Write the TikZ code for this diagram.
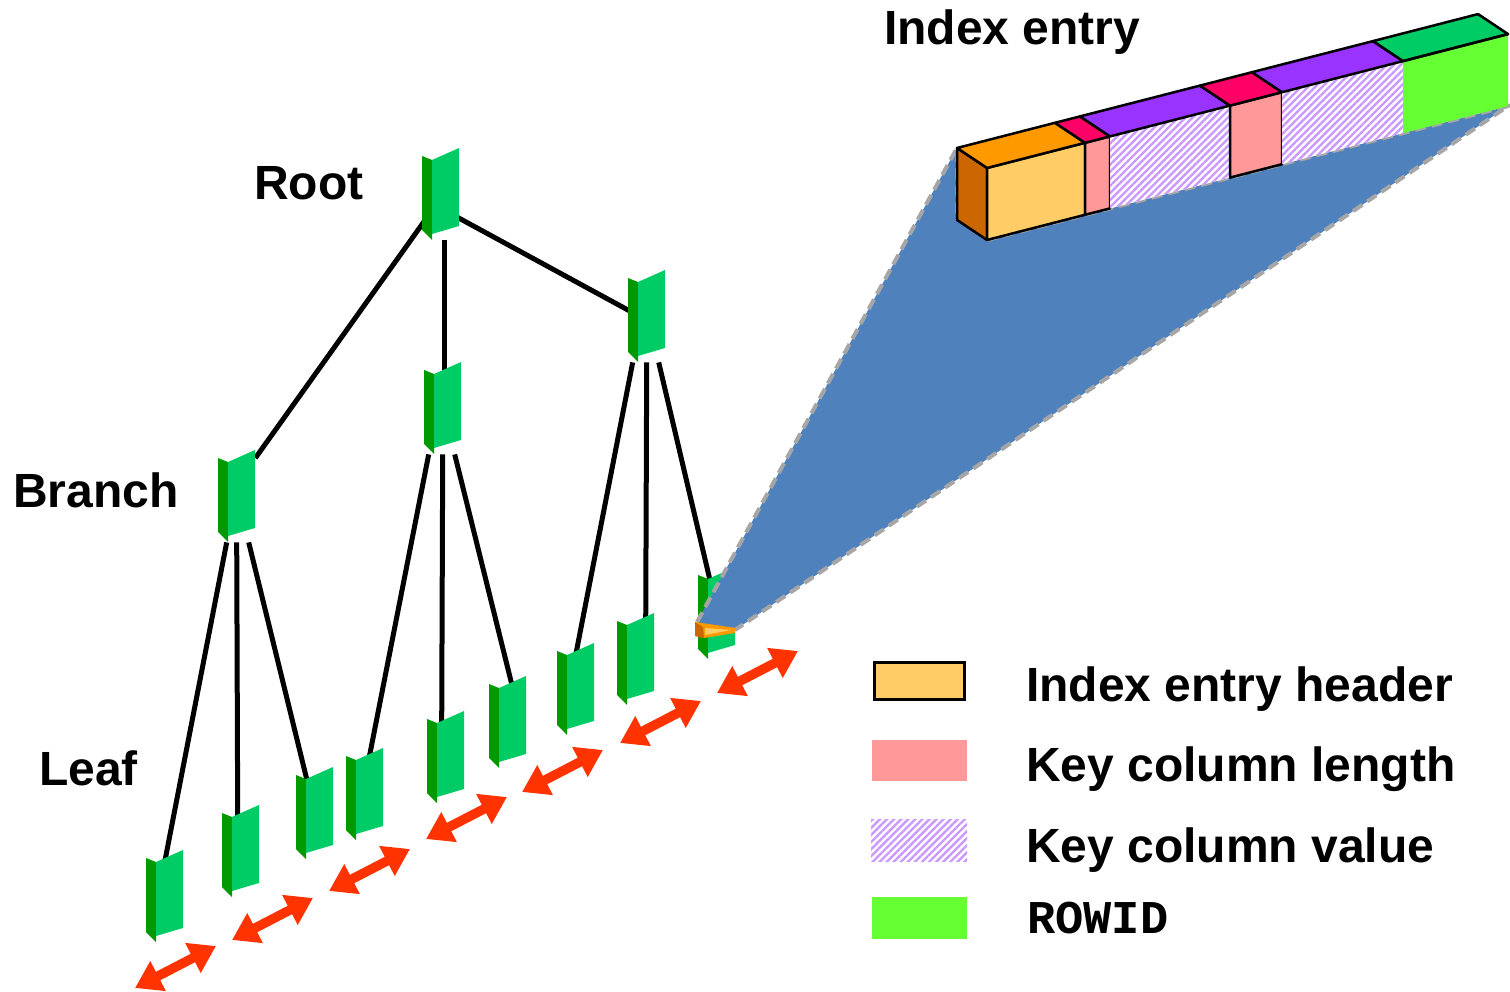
\documentclass[tikz,border=0pt]{standalone}
\usepackage{fontspec}
\setmainfont{Liberation Sans}
\newfontfamily\codefont{Liberation Mono}
\usetikzlibrary{arrows.meta,patterns.meta}
\definecolor{findark}{HTML}{009900}
\definecolor{finlight}{HTML}{00CC66}
\definecolor{hdrfront}{HTML}{FFCC66}
\definecolor{hdrtop}{HTML}{FF9900}
\definecolor{hdrside}{HTML}{CC6600}
\definecolor{keypink}{HTML}{FF9999}
\definecolor{keyred}{HTML}{FF0066}
\definecolor{keypurple}{HTML}{9933FF}
\definecolor{hatchcol}{HTML}{CC99FF}
\definecolor{ridtop}{HTML}{00CC66}
\definecolor{ridfront}{HTML}{66FF33}
\definecolor{fanblue}{HTML}{4F81BD}
\definecolor{arrowred}{HTML}{FF3300}
\definecolor{dashgray}{HTML}{A6A6A6}
\tikzset{
  blk/.style={rectangle, inner sep=0pt, minimum width=37pt, minimum height=84pt, anchor=north west},
  link/.style={line width=5pt, black},
  lbl/.style={font=\bfseries\fontsize{48}{57}\selectfont, inner sep=0pt, anchor=base west},
  dbl/.style={line width=9.5pt, arrowred, {Triangle[length=26pt,width=32pt]}-{Triangle[length=26pt,width=32pt]}},
  faceline/.style={draw=black, line width=2.5pt, line join=round},
  hatchface/.style={preaction={fill=white}, pattern={Lines[angle=45,distance=5pt,line width=2.4pt]}, pattern color=hatchcol},
  fanedge/.style={draw=dashgray, line width=4pt, dash pattern=on 11pt off 6pt},
  swatch/.style={rectangle, inner sep=0pt},
}
\newcommand\drawfin[1]{%
  \fill[findark] (#1.north west) -- ++(10,4) -- ++(0,80) -- ++(-10,-10) -- cycle;
  \fill[finlight] ([shift={(10,4)}]#1.north west) -- ++(27,-12) -- ++(0,78) -- ++(-27,8) -- cycle;}
% #1 xa, #2 bottom y at xa, #3 xb, #4 bottom y at xb, #5 front style, #6 top colour
\newcommand\barseg[6]{%
  \path[#5] (#1,#2) -- (#3,#4) -- (#3,#4-72) -- (#1,#2-72) -- cycle;
  \filldraw[fill=#6, faceline] (#1,#2-72) -- (#3,#4-72) -- (#3-30,#4-92) -- (#1-30,#2-92) -- cycle;}
\begin{document}
\begin{tikzpicture}[x=1pt,y=-1pt]
\useasboundingbox (0,0) rectangle (1510,992);
% tree blocks (positions)
\node[blk] (root) at (422,156) {};
\node[blk] (b1) at (218,458) {};
\node[blk] (b2) at (424,370) {};
\node[blk] (b3) at (628,278) {};
\node[blk] (l1) at (146,858) {};
\node[blk] (l2) at (222,813) {};
\node[blk] (l3) at (296,775) {};
\node[blk] (l4) at (346,756) {};
\node[blk] (l5) at (427,719) {};
\node[blk] (l6) at (489,684) {};
\node[blk] (l7) at (557,651) {};
\node[blk] (l8) at (617,621) {};
\node[blk] (l9) at (698,575) {};
% connectors
\draw[link] (root.center) -- (b1.north east);
\draw[link] ([xshift=3.5pt]root.south) -- ([xshift=1.5pt]b2.north);
\draw[link] ([yshift=-10pt]root.center) -- (b3.center);
\draw[link] ([xshift=-10pt]b1.south) -- ([yshift=-4pt]l1.north);
\draw[link] (b1.south) -- ([xshift=-3pt,yshift=-4pt]l2.north);
\draw[link] ([xshift=12pt]b1.south) -- ([xshift=-8pt,yshift=-4pt]l3.north);
\draw[link] ([xshift=-14pt]b2.south) -- ([xshift=4pt,yshift=-4pt]l4.north);
\draw[link] (b2.south) -- ([xshift=-4pt,yshift=-4pt]l5.north);
\draw[link] ([xshift=12pt]b2.south) -- ([xshift=5pt,yshift=-4pt]l6.north);
\draw[link] ([xshift=-14pt]b3.south) -- ([yshift=-4pt]l7.north);
\draw[link] (b3.south) -- ([xshift=10pt,yshift=-4pt]l8.north);
\draw[link] ([xshift=12pt]b3.south) -- ([xshift=-7pt,yshift=-4pt]l9.north);
% fins
\foreach \n in {root,b1,b2,b3,l1,l2,l3,l4,l5,l6,l7,l8,l9}{\drawfin{\n}}
% fan
\coordinate (apexL) at (697,622);
\coordinate (apexR) at (735,630);
\coordinate (barTL) at (957,148);
\coordinate (barBL) at (957,220);
\coordinate (barFL) at (987,240);
\coordinate (barFR) at (1508,106.1);
\fill[fanblue] (apexL) -- (barTL) -- (barBL) -- (barFL) -- (barFR) -- (apexR) -- cycle;
\draw[fanedge] (apexL) -- (barTL) -- (barBL);
\draw[fanedge] (barFL) -- (barFR) -- (apexR);
% small entry at apex
\fill[hdrtop] (695,622) -- (736,628) -- (735,633) -- (704,638) -- (695,636) -- cycle;
\fill[hdrside] (695,622) -- (703,627) -- (704,638) -- (695,636) -- cycle;
\fill[hdrfront] (705,628) -- (731,630) -- (705,635) -- cycle;
% index entry bar
\filldraw[fill=hdrside, faceline] (barTL) -- (987,168) -- (barFL) -- (barBL) -- cycle;
\barseg{987}{240}{1085}{214.8}{fill=hdrfront, faceline}{hdrtop}
\barseg{1085}{214.8}{1110}{208.4}{fill=keypink, faceline}{keyred}
\barseg{1110}{208.4}{1230}{177.6}{hatchface}{keypurple}
\barseg{1230}{177.6}{1282}{164.2}{fill=keypink, faceline}{keyred}
\barseg{1282}{164.2}{1403}{133.1}{hatchface}{keypurple}
\barseg{1403}{133.1}{1508}{106.1}{fill=ridfront}{ridtop}
\draw[faceline] (1403,61.1) -- (1508,34.1);
% arrows
\foreach \i/\x/\y in {1/135/988, 2/232/940, 3/329/891, 4/426/839, 5/522/792, 6/620/743, 7/717/693}{
  \coordinate (as\i) at (\x,\y);
  \coordinate (ae\i) at (\x+81,\y-42);
  \draw[dbl] (as\i) -- (ae\i);
}
% labels
\node[lbl] (tRoot) at (254,200) {Root};
\node[lbl] (tBranch) at (13,507) {Branch};
\node[lbl] (tLeaf) at (39,785) {Leaf};
\node[lbl] (tEntry) at (884,45) {Index entry};
% legend
\node[swatch, fill=hdrfront, draw=black, line width=3pt, minimum width=90pt, minimum height=37pt] (sw1) at (919,680.5) {};
\node[swatch, fill=keypink, minimum width=95pt, minimum height=41pt] (sw2) at (919.5,760.5) {};
\node[swatch, hatchface, minimum width=96pt, minimum height=42pt] (sw3) at (919,840) {};
\node[swatch, fill=ridfront, minimum width=95pt, minimum height=42pt] (sw4) at (919.5,918) {};
\node[lbl] (lg1) at (1026,701) {Index entry header};
\node[lbl] (lg2) at (1026,781) {Key column length};
\node[lbl] (lg3) at (1026,862) {Key column value};
\node[lbl, font=\codefont\bfseries\fontsize{47}{56}\selectfont] (lg4) at (1027,933) {ROWID};
\end{tikzpicture}
\end{document}
